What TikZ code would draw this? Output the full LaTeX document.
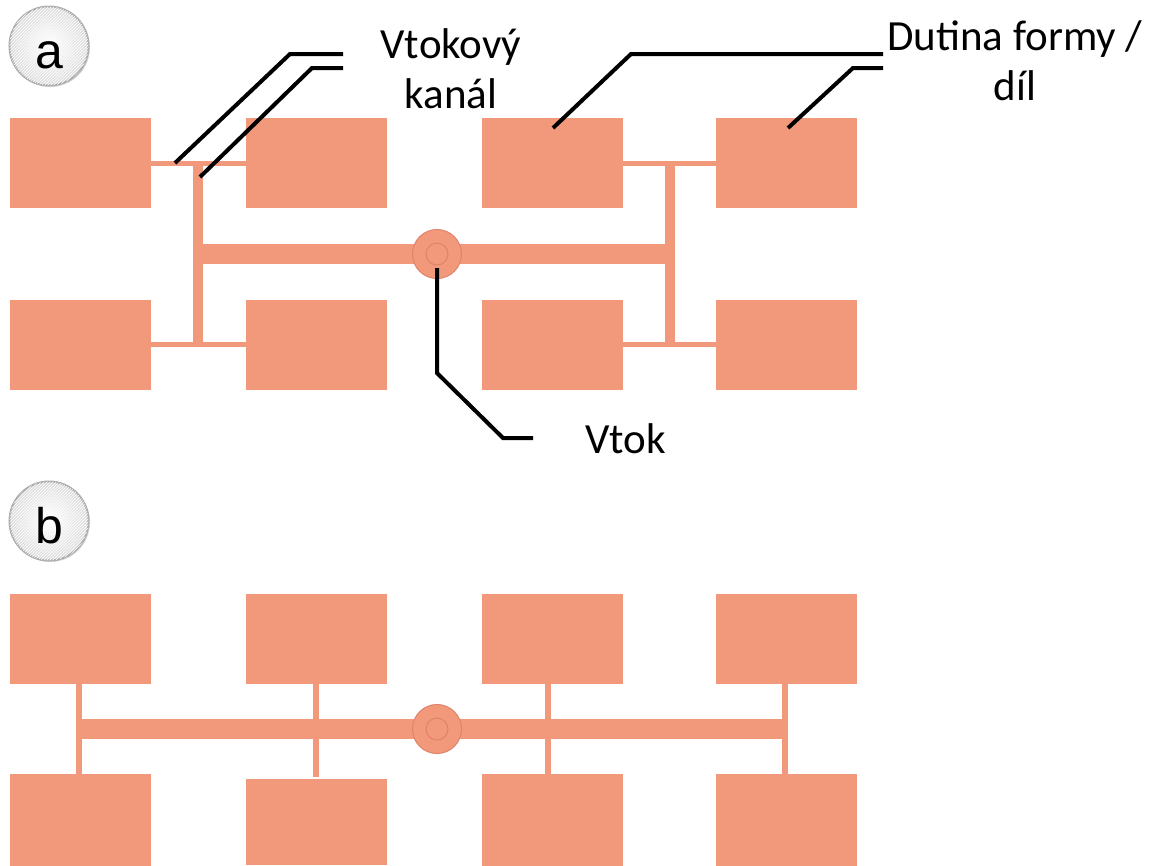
\documentclass[tikz,border=0pt]{standalone}
\usepackage{fontspec}
\setmainfont{Carlito}
\newfontfamily\badgefont{Liberation Sans}
\usetikzlibrary{patterns, shadows}
\definecolor{mold}{HTML}{F2997B}
\definecolor{moldedge}{HTML}{E0826A}

\begin{document}
\begin{tikzpicture}[x=1pt, y=-1pt,
    every node/.style={font=\fontsize{43}{50}\selectfont},
    cavity/.style={fill=mold, inner sep=0pt, minimum width=141pt, minimum height=90pt},
    sprue/.style={circle, fill=mold, draw=moldedge, line width=1pt, inner sep=0pt, minimum size=49pt},
    leader/.style={line width=4pt},
    badge/.style={circle, inner sep=0pt, minimum size=79pt, draw=gray!65, line width=2pt,
      inner color=white, outer color=gray!28,
      postaction={pattern=north east lines, pattern color=white},
      drop shadow={shadow xshift=1.5pt, shadow yshift=-1.5pt, opacity=0.3},
      font=\badgefont\fontsize{50}{50}\selectfont, text height=44pt, text depth=0pt}]
  \useasboundingbox (0,0) rectangle (1156,865);

  % badges
  \node[badge] (badgeA) at (49,46) {a};
  \node[badge] (badgeB) at (49,521) {b};

  % cavities
  \foreach \c/\x in {1/80.5, 2/316, 3/552, 4/786.5} {
    \node[cavity] (a-t\c) at (\x,163) {};
    \node[cavity] (a-b\c) at (\x,344.5) {};
    \node[cavity] (b-t\c) at (\x,639) {};
  }
  \foreach \c/\x/\y/\h in {1/80.5/819.5/92, 2/316/822/86, 3/552/819.5/92, 4/786.5/819.5/92}
    \node[cavity, minimum height=\h pt] (b-b\c) at (\x,\y) {};

  % runners, layout a
  \fill[mold] (151,161) rectangle (246,166);
  \fill[mold] (151,342) rectangle (246,347);
  \fill[mold] (622,161) rectangle (716,166);
  \fill[mold] (622,342) rectangle (716,347);
  \fill[mold] (193,161) rectangle (203,347);
  \fill[mold] (665,161) rectangle (675,347);
  \fill[mold] (203,244) rectangle (665,264);
  \node[sprue] (sprueA) at (437,254) {};
  \draw[moldedge, line width=1pt] (sprueA.center) circle (11pt);

  % runners, layout b
  \fill[mold] (76,719) rectangle (788,739);
  \foreach \x in {76, 545, 782}
    \fill[mold] (\x,684) rectangle (\x+6,774);
  \fill[mold] (313,684) rectangle (319,777);
  \node[sprue] (sprueB) at (437,729) {};
  \draw[moldedge, line width=1pt] (sprueB.center) circle (11pt);

  % labels
  \node[anchor=north, align=center] (kanal) at (451,25) {Vtokový\\kanál};
  \node[anchor=north, align=center] (dutina) at (1015,17) {Dutina formy /\\díl};
  \node[anchor=base west] (vtok) at (582,453) {Vtok};

  \coordinate (kanal1) at (343,54);
  \coordinate (kanal2) at (343,68);
  \coordinate (dutina1) at (883,54);
  \coordinate (dutina2) at (883,68);
  \coordinate (vtok1) at (533,438);

  % leader lines
  \draw[leader] (175,163) -- (290,54) -- (kanal1);
  \draw[leader] (200,177) -- (312,68) -- (kanal2);
  \draw[leader] (553,128) -- (631,54) -- (dutina1);
  \draw[leader] (788,128) -- (853,68) -- (dutina2);
  \draw[leader] ([yshift=-14pt]sprueA.center) -- (437,373) -- (503,438) -- (vtok1);
\end{tikzpicture}
\end{document}
